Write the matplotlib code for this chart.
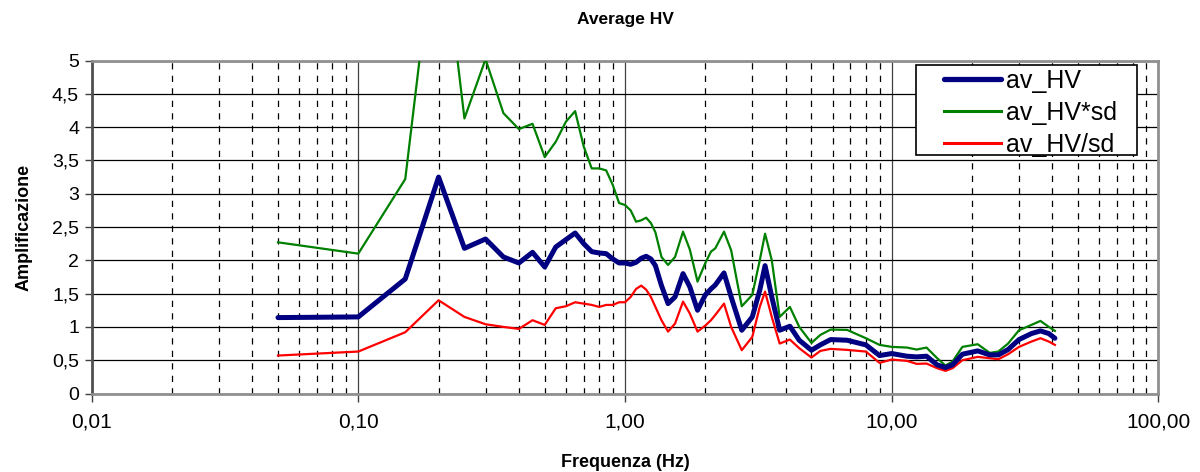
import matplotlib
matplotlib.use("Agg")
import matplotlib.pyplot as plt
from matplotlib.patches import Rectangle
from matplotlib.ticker import FixedLocator, FuncFormatter, LogLocator, NullFormatter

plt.rcParams['font.family'] = ['Liberation Sans', 'DejaVu Sans']

freq = [0.05, 0.1, 0.15, 0.2, 0.25, 0.3, 0.35, 0.4, 0.45, 0.5, 0.55, 0.6, 0.65, 0.7,
        0.75, 0.8, 0.85, 0.9, 0.95, 1.0, 1.05, 1.1, 1.15, 1.2, 1.25, 1.3, 1.37, 1.45,
        1.54, 1.65, 1.75, 1.87, 2.0, 2.1, 2.18, 2.35, 2.5, 2.74, 3.0, 3.2, 3.35, 3.55,
        3.8, 4.15, 4.5, 5.0, 5.4, 5.9, 6.8, 8.0, 9.0, 10.0, 11.4, 12.4, 13.5, 14.8,
        15.9, 16.9, 18.4, 21.0, 23.3, 25.1, 27.3, 30.0, 33.4, 36.1, 38.8, 40.9]

av_hv = [1.14, 1.15, 1.72, 3.25, 2.18, 2.32, 2.05, 1.96, 2.12, 1.90, 2.20, 2.31, 2.41, 2.25,
         2.13, 2.11, 2.10, 2.02, 1.96, 1.96, 1.94, 1.97, 2.03, 2.06, 2.02, 1.92, 1.62, 1.35,
         1.45, 1.80, 1.60, 1.25, 1.48, 1.57, 1.63, 1.81, 1.45, 0.95, 1.15, 1.55, 1.92, 1.45,
         0.95, 1.01, 0.80, 0.65, 0.73, 0.81, 0.80, 0.73, 0.57, 0.60, 0.56, 0.55, 0.56, 0.43,
         0.39, 0.43, 0.59, 0.64, 0.58, 0.58, 0.66, 0.81, 0.90, 0.94, 0.90, 0.83]

av_hv_mul_sd = [2.27, 2.10, 3.22, 7.40, 4.13, 5.02, 4.21, 3.97, 4.05, 3.55, 3.78, 4.08, 4.24, 3.71,
                3.38, 3.38, 3.35, 3.13, 2.86, 2.83, 2.75, 2.58, 2.60, 2.64, 2.56, 2.42, 2.05, 1.93,
                2.05, 2.43, 2.16, 1.68, 1.96, 2.13, 2.18, 2.43, 2.15, 1.31, 1.48, 2.00, 2.40, 2.00,
                1.15, 1.30, 1.00, 0.76, 0.88, 0.96, 0.955, 0.83, 0.73, 0.70, 0.69, 0.66, 0.69, 0.53,
                0.42, 0.48, 0.70, 0.74, 0.61, 0.63, 0.75, 0.95, 1.03, 1.09, 1.00, 0.94]

av_hv_div_sd = [0.57, 0.63, 0.92, 1.40, 1.15, 1.04, 1.00, 0.97, 1.10, 1.03, 1.28, 1.31, 1.37, 1.35,
                1.33, 1.30, 1.33, 1.33, 1.37, 1.37, 1.45, 1.57, 1.62, 1.56, 1.45, 1.30, 1.10, 0.93,
                1.05, 1.38, 1.20, 0.93, 1.02, 1.10, 1.18, 1.35, 1.00, 0.65, 0.85, 1.30, 1.53, 1.15,
                0.75, 0.81, 0.68, 0.54, 0.64, 0.67, 0.655, 0.63, 0.46, 0.51, 0.49, 0.445, 0.45, 0.38,
                0.34, 0.38, 0.50, 0.55, 0.53, 0.515, 0.59, 0.70, 0.78, 0.83, 0.78, 0.73]

series_labels = ['av_HV', 'av_HV*sd', 'av_HV/sd']
x_ticks = [0.01, 0.1, 1, 10, 100]
x_tick_labels = ['0,01', '0,10', '1,00', '10,00', '100,00']
y_ticks = [0, 0.5, 1, 1.5, 2, 2.5, 3, 3.5, 4, 4.5, 5]

fig = plt.figure(figsize=(12, 4.72), dpi=100)
ax = fig.add_axes([0.0763, 0.1663, 0.8891, 0.7055])

ax.set_xscale('log')
ax.set_xlim(0.01, 100)
ax.set_ylim(0, 5)

# grid
ax.xaxis.set_major_locator(FixedLocator(x_ticks))
ax.xaxis.set_minor_locator(LogLocator(base=10, subs=range(2, 10), numticks=20))
ax.xaxis.set_minor_formatter(NullFormatter())
ax.set_xticklabels(x_tick_labels)
ax.set_yticks(y_ticks)
ax.yaxis.set_major_formatter(FuncFormatter(lambda v, p: ('%g' % v).replace('.', ',')))

ax.grid(which='major', axis='y', color='black', linewidth=0.9)
ax.grid(which='major', axis='x', color='#404040', linewidth=0.9)
ax.grid(which='minor', axis='x', color='black', linewidth=0.9, linestyle=(0, (5, 5)))
ax.set_axisbelow(True)

ax.tick_params(axis='x', which='major', direction='out', length=6, width=1, color='#404040',
               labelsize=15, pad=8)
ax.tick_params(axis='x', which='minor', length=0)
ax.tick_params(axis='y', which='major', direction='out', length=5, width=1, color='#404040',
               labelsize=14, pad=4)

for side in ['top', 'right', 'bottom']:
    ax.spines[side].set_color('#909090')
    ax.spines[side].set_linewidth(2)
ax.spines['left'].set_color('#505050')
ax.spines['left'].set_linewidth(2)

ax.plot(freq, av_hv, color='#000080', linewidth=3.6, label=series_labels[0],
        solid_joinstyle='round', solid_capstyle='round', zorder=5)
ax.plot(freq, av_hv_mul_sd, color='#008000', linewidth=1.6, label=series_labels[1], zorder=4)
ax.plot(freq, av_hv_div_sd, color='#FF0000', linewidth=1.6, label=series_labels[2], zorder=4)

# legend box (frame) and legend entries
box = Rectangle((0.7725, 0.716), 0.2071, 0.2705, transform=ax.transAxes,
                facecolor='white', edgecolor='black', linewidth=1.2, zorder=9)
ax.add_patch(box)
leg = ax.legend(loc='upper left', bbox_to_anchor=(0.799, 0.976), fontsize=18,
                frameon=False, borderaxespad=0, borderpad=0, handlelength=2.28,
                handletextpad=0.2, labelspacing=0.32)
leg.set_zorder(10)
leg.get_lines()[0].set_linewidth(3.8)
for line in leg.get_lines()[1:]:
    line.set_linewidth(2.2)

ax.set_title('Average HV', fontsize=12.5, fontweight='bold', pad=26)
ax.set_xlabel('Frequenza (Hz)', fontsize=13, fontweight='bold', labelpad=16)
ax.set_ylabel('Amplificazione', fontsize=13, fontweight='bold', labelpad=14)

fig.savefig('out.png', dpi=100)
